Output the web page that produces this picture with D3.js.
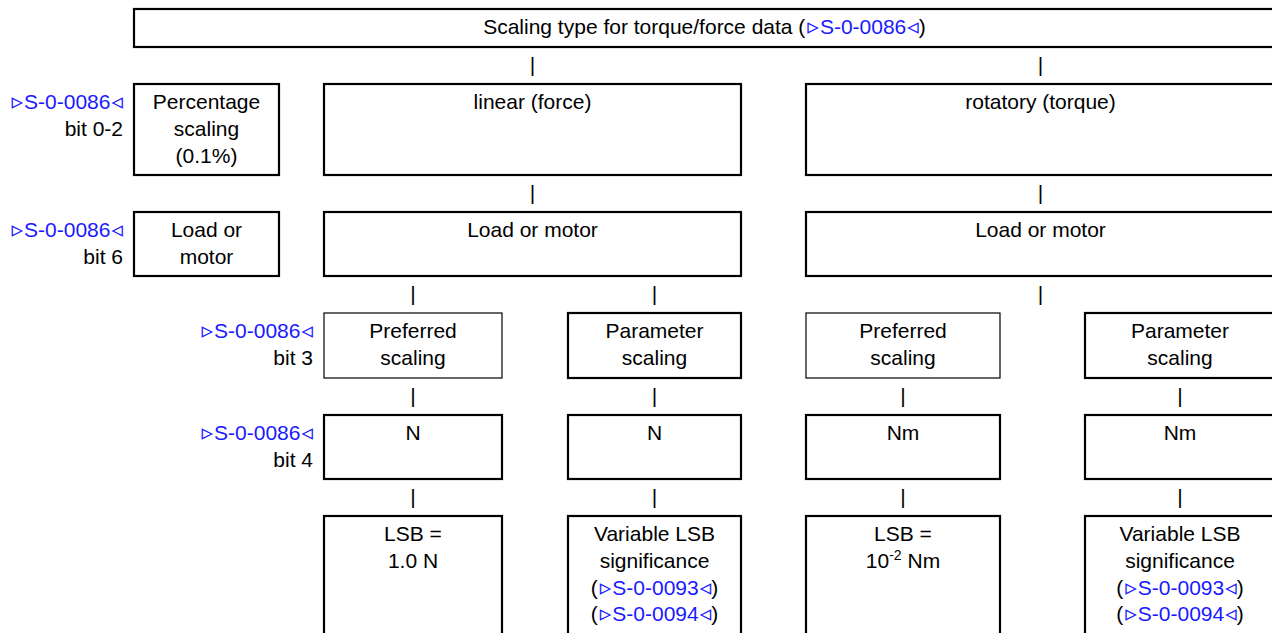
<!DOCTYPE html>
<html>
<head>
<meta charset="utf-8">
<script src="https://cdn.jsdelivr.net/npm/d3@7"></script>
<style>
    body { margin: 0; background: #fff; }
    svg { display: block; font-family: "Liberation Sans", Arial, sans-serif; font-size: 21px; }
    .ref { fill: #1a1aff; }
    .tri { fill: #1a1aff; font-family: "DejaVu Sans", sans-serif; font-size: 23px; font-weight: bold; }
</style>
</head>
<body>
<div id="chart"></div>
<script>
// diagram content
const REF = "S-0-0086";
const titleLine = ["Scaling type for torque/force data (", {ref: REF}, ")"];
const sideBits = ["bit 0-2", "bit 6", "bit 3", "bit 4"];
const sideRows = [1, 2, 3, 4];
const kindLabels = ["linear (force)", "rotatory (torque)"];
const percentLines = ["Percentage", "scaling", "(0.1%)"];
const loadLines = ["Load or", "motor"];
const scalingLines = [["Preferred", "scaling"], ["Parameter", "scaling"]];
const unitLabels = ["N", "N", "Nm", "Nm"];
const lsbLines = [
    [["LSB ="], ["1.0 N"]],
    [["Variable LSB"], ["significance"], ["(", {ref: "S-0-0093"}, ")"], ["(", {ref: "S-0-0094"}, ")"]],
    [["LSB ="], ["10", {sup: "-2"}, " Nm"]],
    [["Variable LSB"], ["significance"], ["(", {ref: "S-0-0093"}, ")"], ["(", {ref: "S-0-0094"}, ")"]]
];
const leafCols = ["linPref", "linPar", "rotPref", "rotPar"];

// layout
const W = 1272, H = 633;
const rowY = d3.scaleOrdinal().domain(d3.range(6)).range([9, 84, 212, 313, 415, 516]);
const rowH = d3.scaleOrdinal().domain(d3.range(6)).range([38, 91, 64, 65, 64, 140]);
const colX = d3.scaleOrdinal()
    .domain(["all", "side", "lin", "rot", "linPref", "linPar", "rotPref", "rotPar"])
    .range([[134, 1275], [134, 279], [324, 741], [806, 1275], [324, 502], [568, 741], [806, 1000], [1085, 1275]]);
const firstBase = 25.3, lineStep = 26.7;

function addLine(g, x, y, anchor, segs) {
    const t = g.append("text").attr("x", x).attr("y", y).attr("text-anchor", anchor);
    let shift = 0;
    segs.forEach(s => {
        if (typeof s === "string") {
            t.append("tspan").attr("dy", -shift).text(s);
            shift = 0;
        } else if (s.ref) {
            t.append("tspan").attr("class", "tri").attr("dy", -shift).attr("dx", 2).text("\u25B9");
            t.append("tspan").attr("class", "ref").attr("dx", 1).text(s.ref);
            t.append("tspan").attr("class", "tri").attr("dx", 1).text("\u25C3");
            shift = 0;
        } else if (s.sup) {
            t.append("tspan").attr("font-size", 14).attr("dy", -8).text(s.sup);
            shift = -8;
        }
    });
}

function drawBox(g, row, col, lines, thin) {
    const [x0, x1] = colX(col);
    const y0 = rowY(row);
    g.append("rect")
        .attr("x", x0).attr("y", y0)
        .attr("width", x1 - x0).attr("height", rowH(row))
        .attr("fill", "none")
        .attr("stroke", "#000")
        .attr("stroke-width", thin ? 1.2 : 2.2);
    lines.forEach((ln, i) => {
        addLine(g, (x0 + x1) / 2, y0 + firstBase + i * lineStep, "middle",
            Array.isArray(ln) ? ln : [ln]);
    });
}

function drawBar(g, afterRow, col) {
    const [x0, x1] = colX(col);
    const gapTop = rowY(afterRow) + rowH(afterRow);
    g.append("text")
        .attr("x", (x0 + x1) / 2)
        .attr("y", gapTop + firstBase)
        .attr("text-anchor", "middle")
        .text("|");
}

function createChart() {
    const svg = d3.select("#chart").append("svg")
        .attr("width", W).attr("height", H)
        .attr("viewBox", `0 0 ${W} ${H}`);
    const g = svg.append("g");

    drawBox(g, 0, "all", [titleLine]);
    ["lin", "rot"].forEach(c => drawBar(g, 0, c));

    drawBox(g, 1, "side", percentLines);
    kindLabels.forEach((k, i) => drawBox(g, 1, ["lin", "rot"][i], [k]));
    ["lin", "rot"].forEach(c => drawBar(g, 1, c));

    drawBox(g, 2, "side", loadLines);
    ["lin", "rot"].forEach(c => drawBox(g, 2, c, ["Load or motor"]));
    ["linPref", "linPar", "rot"].forEach(c => drawBar(g, 2, c));

    leafCols.forEach((c, i) => drawBox(g, 3, c, scalingLines[i % 2], i % 2 === 0));
    leafCols.forEach(c => drawBar(g, 3, c));

    leafCols.forEach((c, i) => drawBox(g, 4, c, [unitLabels[i]]));
    leafCols.forEach(c => drawBar(g, 4, c));

    leafCols.forEach((c, i) => drawBox(g, 5, c, lsbLines[i]));

    // side labels
    sideRows.forEach((r, i) => {
        const xr = r <= 2 ? colX("side")[0] - 13 : colX("linPref")[0] - 13;
        const y0 = rowY(r) + firstBase;
        addLine(g, xr, y0, "end", [{ref: REF}]);
        addLine(g, xr + 2, y0 + lineStep, "end", [sideBits[i]]);
    });
}

document.addEventListener("DOMContentLoaded", createChart);
</script>
</body>
</html>
